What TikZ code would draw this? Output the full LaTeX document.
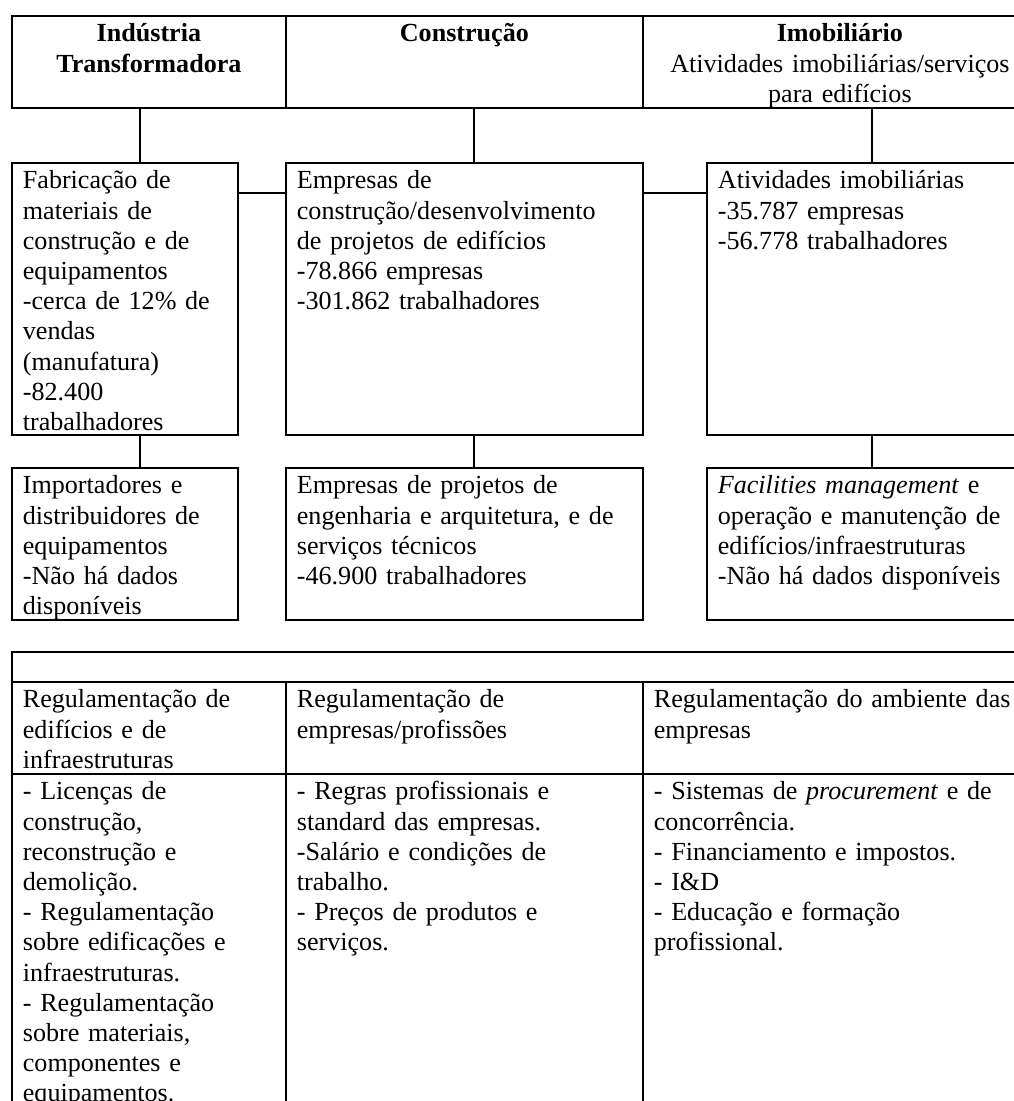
\documentclass[tikz,border=0pt]{standalone}
\usepackage{fontspec}
\setmainfont{Liberation Serif}
\usepackage{tikz}

\tikzset{
  cell/.style={draw=black, line width=1.8pt, anchor=north west, align=left,
    inner xsep=11pt, inner ysep=6pt, text height=20pt,
    font=\fontsize{26.1pt}{30.2pt}\selectfont},
  headcell/.style={cell, align=center},
  link/.style={draw=black, line width=1.8pt},
}

\begin{document}
\begin{tikzpicture}[x=1pt, y=-1pt]
  \useasboundingbox (0,0) rectangle (1014,1101);
  \clip (0,0) rectangle (1014,1101);

  % sectores
  \node[headcell, text width=252pt, text depth=60pt] (hdInd) at (11,15)
    {\bfseries Indústria\\Transformadora};
  \node[headcell, text width=335pt, text depth=60pt] (hdCon) at (285,15)
    {\bfseries Construção};
  \node[headcell, text width=372pt, text depth=60pt] (hdImo) at (642,15)
    {{\bfseries Imobiliário}\\Atividades imobiliárias/serviços\\para edifícios};

  % empresas
  \node[cell, text width=204pt, text depth=240pt] (fab) at (11,162)
    {Fabricação de\\materiais de\\construção e de\\equipamentos\\-cerca de 12\% de\\vendas\\(manufatura)\\-82.400\\trabalhadores};
  \node[cell, text width=335pt, text depth=240pt] (emp) at (285,162)
    {Empresas de\\construção/desenvolvimento\\de projetos de edifícios\\-78.866 empresas\\-301.862 trabalhadores};
  \node[cell, text width=308pt, text depth=240pt] (imo) at (706,162)
    {Atividades imobiliárias\\-35.787 empresas\\-56.778 trabalhadores};

  \node[cell, text width=204pt, text depth=120pt] (imp) at (11,467)
    {Importadores e\\distribuidores de\\equipamentos\\-Não há dados\\disponíveis};
  \node[cell, text width=335pt, text depth=120pt] (eng) at (285,467)
    {Empresas de projetos de\\engenharia e arquitetura, e de\\serviços técnicos\\-46.900 trabalhadores};
  \node[cell, text width=308pt, text depth=120pt] (fac) at (706,467)
    {\textit{Facilities management} e\\operação e manutenção de\\edifícios/infraestruturas\\-Não há dados disponíveis};

  % ligacoes
  \draw[link] ([xshift=15pt]fab.north) -- ([xshift=15pt]fab.north |- hdInd.south);
  \draw[link] ([xshift=9.5pt]emp.north) -- ([xshift=9.5pt]emp.north |- hdCon.south);
  \draw[link] (imo.north) -- (imo.north |- hdImo.south);
  \draw[link] ([yshift=-31pt]fab.north east) -- ([yshift=-31pt]emp.north west);
  \draw[link] ([yshift=-31pt]emp.north east) -- ([yshift=-31pt]imo.north west);
  \draw[link] ([xshift=15pt]fab.south) -- ([xshift=15pt]imp.north);
  \draw[link] ([xshift=9.5pt]emp.south) -- ([xshift=9.5pt]eng.north);
  \draw[link] (imo.south) -- (fac.north);

  % regulamentacao
  \node[cell, text width=1003pt, text height=0pt, text depth=0pt,
        minimum height=30pt] (tbTop) at (11,651) {};
  \node[cell, text width=252pt, text depth=60pt] (regEdi) at (11,681)
    {Regulamentação de\\edifícios e de\\infraestruturas};
  \node[cell, text width=335pt, text depth=60pt] (regEmp) at (285,681)
    {Regulamentação de\\empresas/profissões};
  \node[cell, text width=372pt, text depth=60pt] (regAmb) at (642,681)
    {Regulamentação do ambiente das\\empresas};

  \node[cell, text width=252pt, text depth=335pt] (lstEdi) at (11,773)
    {- Licenças de\\construção,\\reconstrução e\\demolição.\\- Regulamentação\\sobre edificações e\\infraestruturas.\\- Regulamentação\\sobre materiais,\\componentes e\\equipamentos.};
  \node[cell, text width=335pt, text depth=335pt] (lstEmp) at (285,773)
    {- Regras profissionais e\\standard das empresas.\\-Salário e condições de\\trabalho.\\- Preços de produtos e\\serviços.};
  \node[cell, text width=372pt, text depth=335pt] (lstAmb) at (642,773)
    {- Sistemas de \textit{procurement} e de\\concorrência.\\- Financiamento e impostos.\\- I\&D\\- Educação e formação\\profissional.};
\end{tikzpicture}
\end{document}
